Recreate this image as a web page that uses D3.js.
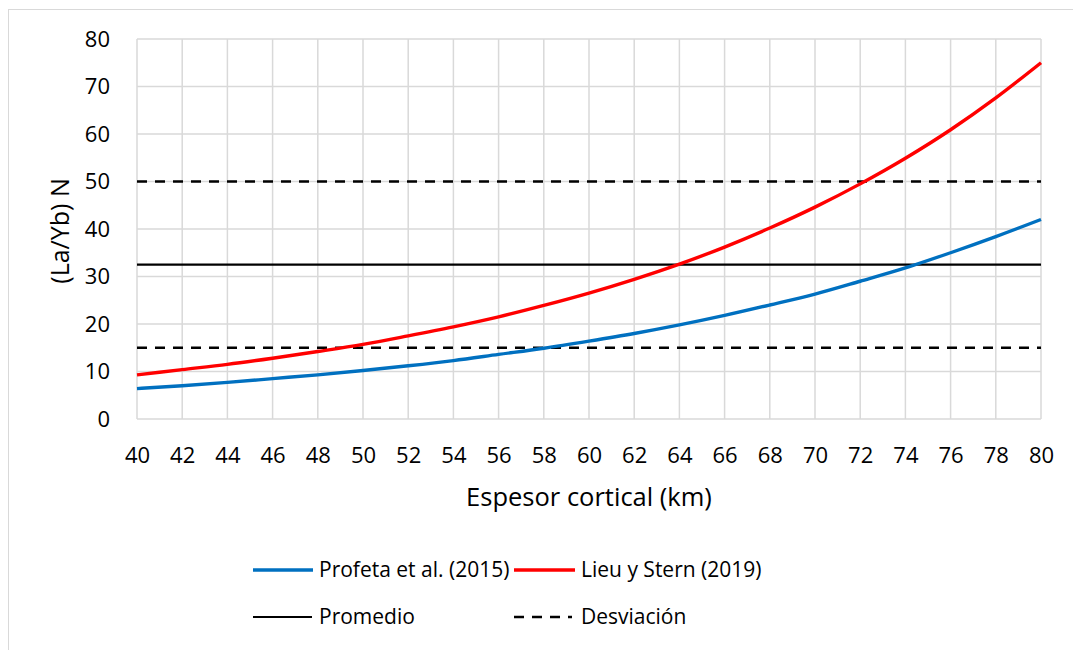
<!DOCTYPE html>
<html><head><meta charset="utf-8">
<script src="https://cdn.jsdelivr.net/npm/d3@7"></script>
<style>body{margin:0;background:#fff;} text{font-family:"Open Sans",sans-serif;fill:#000;}</style>
</head><body><svg id="c" width="1073" height="650"></svg>
<script>
const xTicks = [40,42,44,46,48,50,52,54,56,58,60,62,64,66,68,70,72,74,76,78,80];
const yTicks = [0,10,20,30,40,50,60,70,80];
const thickness = [40,42,44,46,48,50,52,54,56,58,60,62,64,66,68,70,72,74,76,78,80];
const profeta = [6.4,7.0,7.7,8.5,9.3,10.2,11.2,12.3,13.6,14.9,16.4,18.0,19.8,21.8,24.0,26.3,29.0,31.8,35.0,38.4,42.0];
const lieu = [9.3,10.4,11.5,12.8,14.2,15.7,17.5,19.4,21.5,23.9,26.5,29.4,32.6,36.2,40.2,44.6,49.5,54.9,60.9,67.6,75.0];
const promedio = 32.5;
const desviacion = [15, 50];
const seriesNames = ["Profeta et al. (2015)","Lieu y Stern (2019)","Promedio","Desviación"];

const svg = d3.select("#c");
svg.append("rect").attr("x",8.5).attr("y",9.5).attr("width",1080).attr("height",660).attr("fill","#fff").attr("stroke","#d9d9d9").attr("stroke-width",1);

const x = d3.scaleLinear().domain([40,80]).range([137,1041]);
const y = d3.scaleLinear().domain([0,80]).range([419,39]);

const g = svg.append("g");
g.selectAll(".vg").data(xTicks).enter().append("line")
 .attr("x1",d=>x(d)).attr("x2",d=>x(d)).attr("y1",y(0)).attr("y2",y(80))
 .attr("stroke","#d9d9d9").attr("stroke-width",1.5);
g.selectAll(".hg").data(yTicks).enter().append("line")
 .attr("x1",x(40)).attr("x2",x(80)).attr("y1",d=>y(d)).attr("y2",d=>y(d))
 .attr("stroke","#d9d9d9").attr("stroke-width",1.5);

const xAxis = d3.axisBottom(x).tickValues(xTicks).tickSize(0).tickPadding(28);
const xa = svg.append("g").attr("transform",`translate(0,${y(0)})`).call(xAxis);
xa.select(".domain").remove();
xa.selectAll("text").style("font-size","22px").style("font-family","'Open Sans',sans-serif").attr("fill","#000");
const yAxis = d3.axisLeft(y).tickValues(yTicks).tickSize(0).tickPadding(27);
const ya = svg.append("g").attr("transform",`translate(${x(40)},0)`).call(yAxis);
ya.select(".domain").remove();
ya.selectAll("text").style("font-size","22px").style("font-family","'Open Sans',sans-serif").attr("fill","#000");

svg.append("text").attr("x",589).attr("y",506).attr("text-anchor","middle").style("font-size","25.5px").text("Espesor cortical (km)");
svg.append("text").attr("transform","translate(69,231) rotate(-90)").attr("text-anchor","middle").style("font-size","25px").text("(La/Yb) N");

svg.append("line").attr("x1",x(40)).attr("x2",x(80)).attr("y1",y(promedio)).attr("y2",y(promedio)).attr("stroke","#000").attr("stroke-width",2.2);
svg.selectAll(".dv").data(desviacion).enter().append("line")
 .attr("x1",x(40)).attr("x2",x(80)).attr("y1",d=>y(d)).attr("y2",d=>y(d))
 .attr("stroke","#000").attr("stroke-width",2.5).attr("stroke-dasharray","10,8");

const line = d3.line().x((d,i)=>x(thickness[i])).y(d=>y(d)).curve(d3.curveMonotoneX);
svg.append("path").attr("d",line(profeta)).attr("fill","none").attr("stroke","#0070c0").attr("stroke-width",3.4);
svg.append("path").attr("d",line(lieu)).attr("fill","none").attr("stroke","#ff0000").attr("stroke-width",3.4);

const leg = [
 {n:seriesNames[0], c:"#0070c0", w:3.4, dash:null, x1:253, x2:313, tx:319, y:570},
 {n:seriesNames[1], c:"#ff0000", w:3.4, dash:null, x1:514, x2:575, tx:581, y:570},
 {n:seriesNames[2], c:"#000", w:2.2, dash:null, x1:253, x2:312, tx:319, y:617},
 {n:seriesNames[3], c:"#000", w:2.5, dash:"10,8", x1:514, x2:572, tx:581, y:617}
];
leg.forEach(l=>{
  svg.append("line").attr("x1",l.x1).attr("x2",l.x2).attr("y1",l.y).attr("y2",l.y).attr("stroke",l.c).attr("stroke-width",l.w).attr("stroke-dasharray",l.dash);
  svg.append("text").attr("x",l.tx).attr("y",l.y).attr("dy","0.35em").style("font-size","21px").text(l.n);
});
</script></body></html>
